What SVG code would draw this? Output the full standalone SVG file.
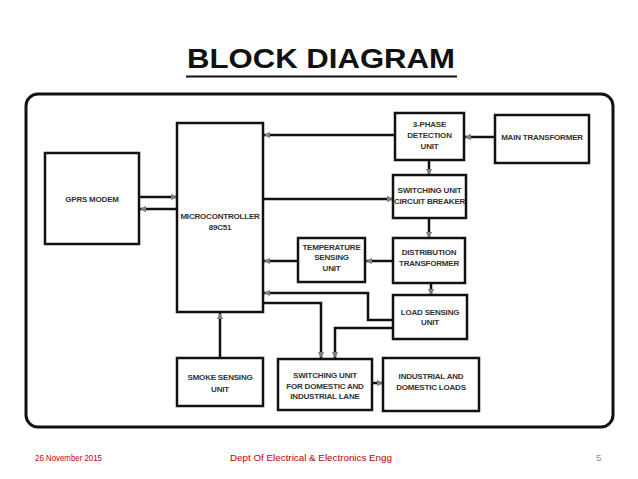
<svg xmlns="http://www.w3.org/2000/svg" width="638" height="479" viewBox="0 0 638 479">
<defs>
<marker id="ah" markerUnits="userSpaceOnUse" markerWidth="8" markerHeight="8" refX="6" refY="4" orient="auto">
<path d="M0,0.8 L6,4 L0,7.2 Z" fill="#7f7f7f"/>
</marker>
</defs>
<style>
.box{fill:#fff;stroke:#111;stroke-width:2.5}
.lbl{font-family:"Liberation Sans",Arial,sans-serif;font-weight:bold;font-size:8px;fill:#333;text-anchor:middle;letter-spacing:-0.2px}
.ln{fill:none;stroke:#111;stroke-width:2.5;marker-end:url(#ah)}
.ft{font-family:"Liberation Sans",Arial,sans-serif;font-size:9.5px;fill:#c00000}
</style>
<rect width="638" height="479" fill="#fff"/>
<text x="321" y="68" font-family="'Liberation Sans',Arial,sans-serif" font-weight="bold" font-size="27" text-anchor="middle" textLength="268" lengthAdjust="spacingAndGlyphs" fill="#111">BLOCK DIAGRAM</text>
<line x1="186" y1="76.5" x2="457" y2="76.5" stroke="#111" stroke-width="2.2"/>
<rect x="26" y="94" width="587" height="333" rx="12" fill="none" stroke="#111" stroke-width="3"/>

<g id="connectors">
<path class="ln" d="M139,197 H177"/>
<path class="ln" d="M177,209 H140"/>
<path class="ln" d="M395,135 H264"/>
<path class="ln" d="M495,137 H465"/>
<path class="ln" d="M429,160 V175"/>
<path class="ln" d="M263,199 H393"/>
<path class="ln" d="M429,218 V238"/>
<path class="ln" d="M393,261 H366"/>
<path class="ln" d="M298,261 H264"/>
<path class="ln" d="M431,283 V295"/>
<path class="ln" d="M393,320 H368 V293 H264"/>
<path class="ln" d="M263,303 H321 V358"/>
<path class="ln" d="M393,328 H335 V358"/>
<path class="ln" d="M372,383 H383"/>
<path class="ln" d="M220,358 V313"/>
</g>

<g id="gprs">
<rect class="box" x="45" y="153" width="94" height="91"/>
<text class="lbl" x="92" y="202">GPRS MODEM</text>
</g>
<g id="mcu">
<rect class="box" x="177" y="123" width="86" height="189"/>
<text class="lbl" x="220" y="219">MICROCONTROLLER</text>
<text class="lbl" x="220" y="230">89C51</text>
</g>
<g id="phase">
<rect class="box" x="395" y="113" width="69" height="47"/>
<text class="lbl" x="429.5" y="127">3-PHASE</text>
<text class="lbl" x="429.5" y="138">DETECTION</text>
<text class="lbl" x="429.5" y="149">UNIT</text>
</g>
<g id="maintx">
<rect class="box" x="495" y="115" width="94" height="48"/>
<text class="lbl" x="542" y="140">MAIN TRANSFORMER</text>
</g>
<g id="swcb">
<rect class="box" x="393" y="175" width="73" height="43"/>
<text class="lbl" x="429.5" y="193">SWITCHING UNIT</text>
<text class="lbl" x="429.5" y="204">CIRCUIT BREAKER</text>
</g>
<g id="distx">
<rect class="box" x="393" y="238" width="72" height="45"/>
<text class="lbl" x="429" y="255">DISTRIBUTION</text>
<text class="lbl" x="429" y="266">TRANSFORMER</text>
</g>
<g id="temp">
<rect class="box" x="298" y="238" width="67" height="44"/>
<text class="lbl" x="331.5" y="250">TEMPERATURE</text>
<text class="lbl" x="331.5" y="260">SENSING</text>
<text class="lbl" x="331.5" y="271">UNIT</text>
</g>
<g id="load">
<rect class="box" x="393" y="295" width="74" height="44"/>
<text class="lbl" x="430" y="315">LOAD SENSING</text>
<text class="lbl" x="430" y="325">UNIT</text>
</g>
<g id="smoke">
<rect class="box" x="177" y="358" width="86" height="48"/>
<text class="lbl" x="220" y="380">SMOKE SENSING</text>
<text class="lbl" x="220" y="392">UNIT</text>
</g>
<g id="swdom">
<rect class="box" x="278" y="359" width="94" height="51"/>
<text class="lbl" x="325" y="378">SWITCHING UNIT</text>
<text class="lbl" x="325" y="389">FOR DOMESTIC AND</text>
<text class="lbl" x="325" y="399">INDUSTRIAL LANE</text>
</g>
<g id="loads">
<rect class="box" x="383" y="358" width="96" height="53"/>
<text class="lbl" x="431" y="379">INDUSTRIAL AND</text>
<text class="lbl" x="431" y="390">DOMESTIC LOADS</text>
</g>

<text class="ft" x="35" y="461" textLength="67" lengthAdjust="spacingAndGlyphs">26 November 2015</text>
<text class="ft" x="230" y="461" textLength="162" lengthAdjust="spacingAndGlyphs">Dept Of Electrical &amp; Electronics Engg</text>
<text x="596" y="461" font-family="'Liberation Sans',Arial,sans-serif" font-size="9.5" fill="#8c8c8c">5</text>
</svg>
